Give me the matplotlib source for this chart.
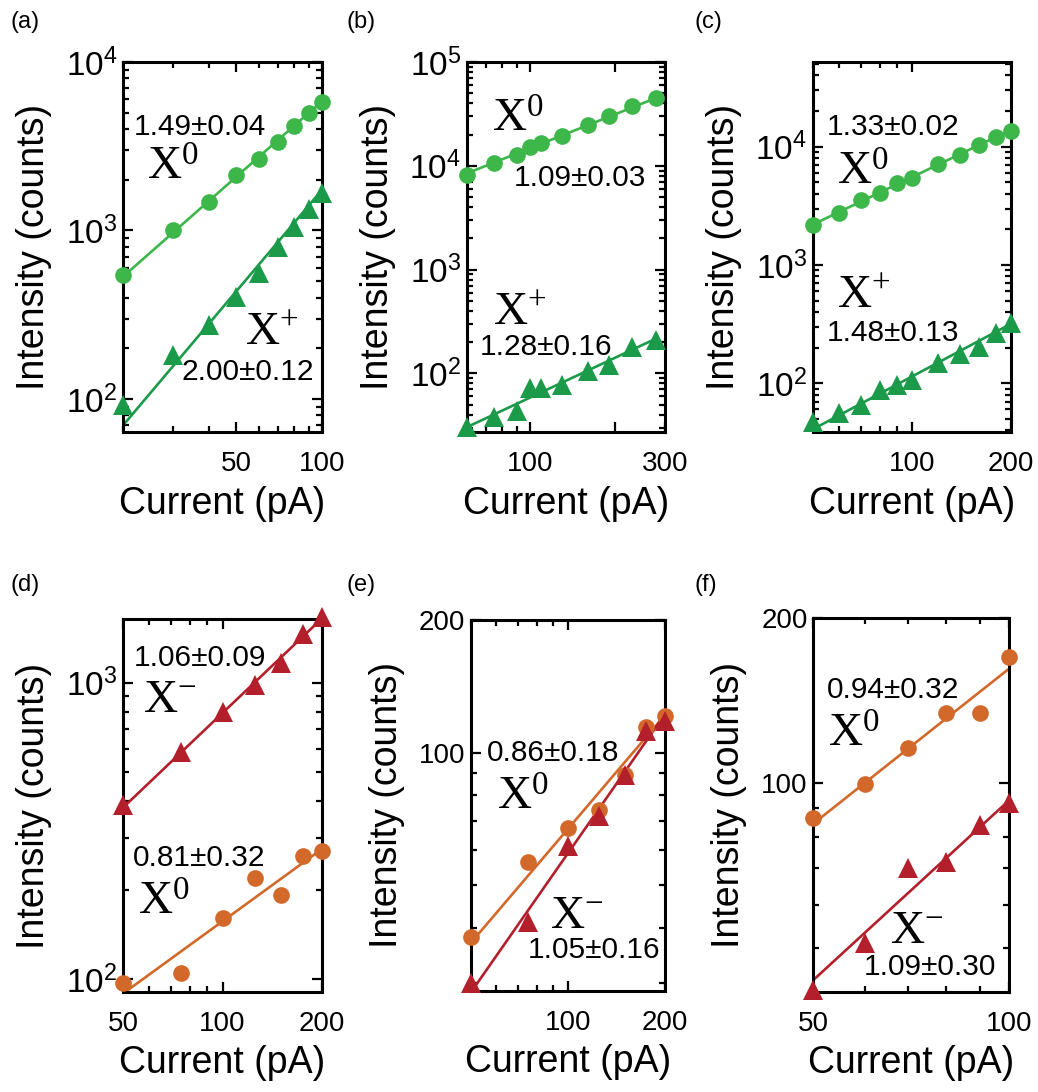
import numpy as np
import matplotlib
matplotlib.use("Agg")
import matplotlib.pyplot as plt
from matplotlib.ticker import FixedLocator, LogLocator, NullFormatter, FixedFormatter

plt.rcParams['font.family'] = ['Liberation Sans', 'DejaVu Sans']
plt.rcParams['mathtext.fontset'] = 'custom'
plt.rcParams['mathtext.rm'] = 'Liberation Serif'
plt.rcParams['mathtext.it'] = 'Liberation Serif:italic'
plt.rcParams['mathtext.bf'] = 'Liberation Serif:bold'

# ---- data ----
a_cur = [20, 30, 40, 50, 60, 70, 80, 90, 100]
a_x0 = [545, 1007, 1483, 2135, 2646, 3365, 4170, 4960, 5810]
a_xp = [92, 182, 275, 405, 557, 802, 1054, 1336, 1663]

b_cur = [60, 75, 90, 100, 110, 130, 160, 190, 230, 280]
b_x0 = [8190, 10540, 12680, 15040, 16430, 19460, 24840, 30330, 37900, 44660]
b_xp = [30.6, 38.1, 43.3, 72.6, 72.6, 77.1, 106, 120, 180.6, 209.6]

c_cur = [50, 60, 70, 80, 90, 100, 120, 140, 160, 180, 200]
c_x0 = [2178, 2735, 3540, 4085, 4905, 5405, 7140, 8510, 10330, 12150, 13650]
c_xp = [47.4, 55.8, 65.6, 87.7, 96.8, 106.6, 147.6, 177, 203.8, 264.6, 325]

d_cur = [50, 75, 100, 125, 150, 175, 200]
d_xm = [387, 585, 798, 982, 1162, 1459, 1669]
d_x0 = [96.9, 104.8, 160.6, 218.9, 192.3, 260.4, 271.3]

e_cur = [50, 75, 100, 125, 150, 175, 200]
e_x0 = [38.2, 56.3, 67.5, 74.2, 89, 114.2, 120.9]
e_xm = [30, 41.3, 61.4, 71.7, 89, 112.2, 118.2]

f_cur = [50, 60, 70, 80, 90, 100]
f_x0 = [86.3, 99.7, 115.8, 134.5, 134.5, 169.8]
f_xm = [42, 51.1, 70, 72, 83.9, 92.2]

# fitted power-law exponents as printed
slopes = {'a0': 1.49, 'ap': 2.00, 'b0': 1.09, 'bp': 1.28, 'c0': 1.33, 'cp': 1.48,
          'dm': 1.06, 'd0': 0.81, 'e0': 0.86, 'em': 1.05, 'f0': 0.94, 'fm': 1.09}
errs = {'a0': 0.04, 'ap': 0.12, 'b0': 0.03, 'bp': 0.16, 'c0': 0.02, 'cp': 0.13,
        'dm': 0.09, 'd0': 0.32, 'e0': 0.18, 'em': 0.16, 'f0': 0.32, 'fm': 0.30}

GREEN_C = '#3db64a'
GREEN_T = '#1b9a4a'
ORANGE = '#d2692a'
RED = '#b31f2b'


def fit_line(x, y, k):
    lx, ly = np.log10(x), np.log10(y)
    b = np.mean(ly - k * lx)
    return 10 ** (b + k * lx)


def series(ax, x, y, key, color, marker):
    ax.plot(x, fit_line(x, y, slopes[key]), '-', color=color, lw=1.9, zorder=2)
    ms = 12 if marker == 'o' else 14
    ax.plot(x, y, marker, color=color, ms=ms, mew=0, zorder=3, clip_on=False)


def label(ax, key, species, num_xy, sp_xy):
    ax.text(num_xy[0], num_xy[1], '%.2f\u00b1%.2f' % (slopes[key], errs[key]),
            transform=ax.transAxes, fontsize=21.5, ha='left', va='center')
    ax.text(sp_xy[0], sp_xy[1], r'$\mathrm{X}^{%s}$' % species,
            transform=ax.transAxes, fontsize=34, ha='left', va='baseline')


def style(ax, xlim, ylim, xmaj, xmaj_lab, xmin, ymaj=None, ymaj_lab=None, ymin=None):
    ax.set_xscale('log')
    ax.set_yscale('log')
    ax.set_xlim(xlim)
    ax.set_ylim(ylim)
    ax.xaxis.set_major_locator(FixedLocator(xmaj))
    ax.xaxis.set_major_formatter(FixedFormatter(xmaj_lab))
    ax.xaxis.set_minor_locator(FixedLocator(xmin))
    ax.xaxis.set_minor_formatter(NullFormatter())
    if ymaj is not None:
        ax.yaxis.set_major_locator(FixedLocator(ymaj))
        ax.yaxis.set_major_formatter(FixedFormatter(ymaj_lab))
        ax.yaxis.set_minor_locator(FixedLocator(ymin))
        ysize = 20
    else:
        ax.yaxis.set_major_locator(LogLocator(base=10))
        ax.yaxis.set_minor_locator(LogLocator(base=10, subs=np.arange(2, 10)))
        ysize = 24
    ax.yaxis.set_minor_formatter(NullFormatter())
    ax.tick_params(which='both', direction='in', top=True, right=True, width=1.6)
    ax.tick_params(which='major', length=7)
    ax.tick_params(which='minor', length=4)
    ax.tick_params(axis='x', which='both', labelsize=20, pad=14)
    ax.tick_params(axis='y', which='both', labelsize=ysize, pad=4)
    for s in ax.spines.values():
        s.set_linewidth(2.2)
    ax.set_xlabel('Current (pA)', fontsize=27, labelpad=6)
    ax.set_ylabel('Intensity (counts)', fontsize=27, labelpad=10)


fig = plt.figure(figsize=(10.38, 10.92), dpi=100)
W, H = 1038.0, 1092.0


def add_ax(x0, x1, y0, y1):
    return fig.add_axes([x0 / W, 1 - y1 / H, (x1 - x0) / W, (y1 - y0) / H])


# (a)
ax = add_ax(123, 322, 62, 432)
series(ax, a_cur, a_x0, 'a0', GREEN_C, 'o')
series(ax, a_cur, a_xp, 'ap', GREEN_T, '^')
style(ax, (20, 100), (63.7, 1e4), [50, 100], ['50', '100'], [20, 30, 40, 60, 70, 80, 90])
label(ax, 'a0', '0', (0.052, 0.825), (0.119, 0.681))
label(ax, 'ap', '+', (0.295, 0.163), (0.613, 0.235))

# (b)
ax = add_ax(466.7, 665, 62, 432)
series(ax, b_cur, b_x0, 'b0', GREEN_C, 'o')
series(ax, b_cur, b_xp, 'bp', GREEN_T, '^')
style(ax, (60, 300), (27.2, 1e5), [100, 200, 300], ['100', '', '300'], [70, 80, 90])
label(ax, 'b0', '0', (0.235, 0.686), (0.126, 0.812))
label(ax, 'bp', '+', (0.067, 0.231), (0.134, 0.289))

# (c)
ax = add_ax(812.7, 1010.7, 62, 432)
series(ax, c_cur, c_x0, 'c0', GREEN_C, 'o')
series(ax, c_cur, c_xp, 'cp', GREEN_T, '^')
style(ax, (50, 200), (38.7, 52000), [100, 200], ['100', '200'], [50, 60, 70, 80, 90])
label(ax, 'c0', '0', (0.071, 0.825), (0.121, 0.668))
label(ax, 'cp', '+', (0.071, 0.267), (0.121, 0.334))

# (d)
ax = add_ax(123, 322, 619.3, 991.7)
series(ax, d_cur, d_x0, 'd0', ORANGE, 'o')
series(ax, d_cur, d_xm, 'dm', RED, '^')
style(ax, (50, 200), (90.8, 1637), [50, 100, 200], ['50', '100', '200'], [60, 70, 80, 90])
label(ax, 'dm', '-', (0.052, 0.895), (0.102, 0.752))
label(ax, 'd0', '0', (0.052, 0.358), (0.077, 0.206))

# (e)
ax = add_ax(470.7, 665, 620, 990.7)
series(ax, e_cur, e_x0, 'e0', ORANGE, 'o')
series(ax, e_cur, e_xm, 'em', RED, '^')
style(ax, (50, 200), (28.8, 200), [100, 200], ['100', '200'], [50, 60, 70, 80, 90],
      [100, 200], ['100', '200'], [30, 40, 50, 60, 70, 80, 90])
label(ax, 'e0', '0', (0.082, 0.640), (0.134, 0.487))
label(ax, 'em', '-', (0.296, 0.110), (0.408, 0.168))

# (f)
ax = add_ax(813.3, 1009.3, 618.3, 991.7)
series(ax, f_cur, f_x0, 'f0', ORANGE, 'o')
series(ax, f_cur, f_xm, 'fm', RED, '^')
style(ax, (50, 100), (41.7, 200), [50, 100], ['50', '100'], [60, 70, 80, 90],
      [100, 200], ['100', '200'], [50, 60, 70, 80, 90])
label(ax, 'f0', '0', (0.068, 0.808), (0.077, 0.656))
label(ax, 'fm', '-', (0.255, 0.067), (0.391, 0.130))

# panel letters
for txt, px, py in [('(a)', 10, 22), ('(b)', 347, 22), ('(c)', 695, 22),
                    ('(d)', 10, 585), ('(e)', 347, 585), ('(f)', 695, 585)]:
    fig.text(px / W, 1 - py / H, txt, fontsize=17, ha='left', va='center')

fig.savefig('out.png', dpi=100)
